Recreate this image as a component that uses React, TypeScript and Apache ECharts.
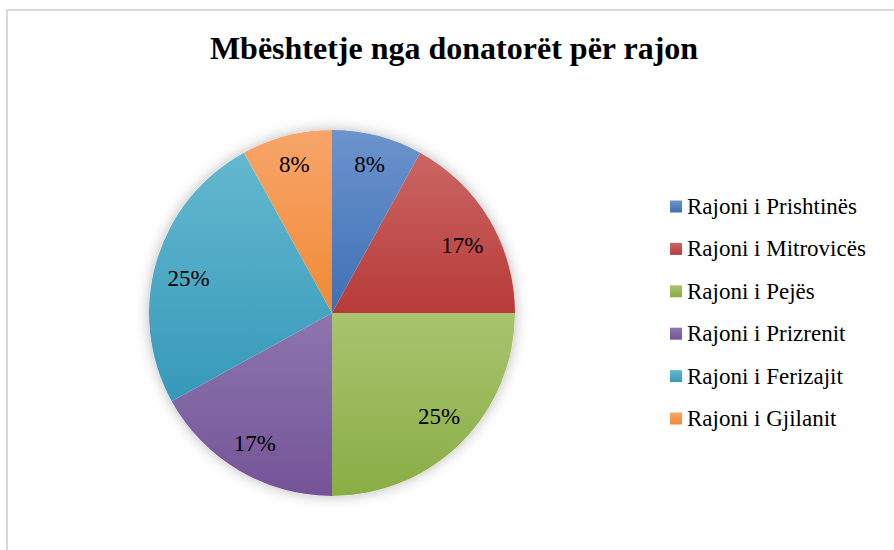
import React, { useEffect, useRef } from "react";
import * as echarts from "echarts";

const titleText = "Mbështetje nga donatorët për rajon";
const categories = [
  "Rajoni i Prishtinës",
  "Rajoni i Mitrovicës",
  "Rajoni i Pejës",
  "Rajoni i Prizrenit",
  "Rajoni i Ferizajit",
  "Rajoni i Gjilanit",
];
const shares = [8, 17, 25, 17, 25, 8];

// styling (not data)
const topColors = ["#6c94cc", "#cb6664", "#a8c46f", "#8d76b0", "#64b8cf", "#f8a56a"];
const bottomColors = ["#3d70b6", "#b73b39", "#8aad45", "#745497", "#3699b9", "#f08a34"];
const labelNudges = [[0, -2], [0, 10], [0, -4], [0, 0], [2, 8], [0, -2]];

const FONT = "Liberation Serif";

export default function App() {
  const ref = useRef<HTMLDivElement>(null);
  useEffect(() => {
    if (!ref.current) return;
    const chart = echarts.init(ref.current, null, { renderer: "svg" });
    const data = categories.map((name, i) => ({
      name,
      value: shares[i],
      itemStyle: {
        color: new echarts.graphic.LinearGradient(0, 0, 0, 1, [
          { offset: 0, color: topColors[i] },
          { offset: 1, color: bottomColors[i] },
        ]),
      },
    }));
    chart.setOption({
      animation: false,
      backgroundColor: "#ffffff",
      textStyle: { fontFamily: FONT },
      graphic: [
        {
          type: "rect",
          shape: { x: 7, y: 10, width: 1000, height: 1000 },
          style: { fill: "none", stroke: "#d9d9d9", lineWidth: 2 },
          silent: true,
          z: -10,
        },
      ],
      title: {
        text: titleText,
        left: 449,
        top: 27,
        textAlign: "center",
        textStyle: {
          fontFamily: FONT,
          fontSize: 32,
          fontWeight: "bold",
          color: "#000000",
        },
      },
      legend: {
        orient: "vertical",
        left: 665,
        top: 190,
        itemWidth: 12,
        itemHeight: 12,
        itemGap: 19.4,
        icon: "rect",
        data: categories,
        textStyle: {
          fontFamily: FONT,
          fontSize: 23,
          lineHeight: 22,
          color: "#000000",
        },
      },
      series: [
        {
          type: "pie",
          name: "shadow",
          center: [332, 313],
          radius: [0, 183],
          silent: true,
          legendHoverLink: false,
          z: 1,
          label: { show: false },
          labelLine: { show: false },
          data: [
            {
              name: "",
              value: shares.reduce((a, b) => a + b, 0),
              itemStyle: {
                color: "#ffffff",
                shadowBlur: 14,
                shadowColor: "rgba(0,0,0,0.28)",
              },
            },
          ],
        },
        {
          type: "pie",
          name: "main",
          center: [332, 313],
          radius: [0, 183],
          startAngle: 90,
          clockwise: true,
          z: 2,
          label: { show: false },
          labelLine: { show: false },
          itemStyle: { borderWidth: 0 },
          emphasis: { disabled: true },
          data,
        },
        {
          type: "pie",
          name: "labels",
          center: [332, 313],
          radius: [114, 183],
          startAngle: 90,
          clockwise: true,
          silent: true,
          z: 3,
          itemStyle: { color: "rgba(0,0,0,0)", borderWidth: 0 },
          emphasis: { disabled: true },
          label: {
            show: true,
            position: "inside",
            formatter: "{c}%",
            fontFamily: FONT,
            fontSize: 23,
            color: "#000000",
          },
          labelLine: { show: false },
          data: categories.map((name, i) => ({
            name,
            value: shares[i],
            label: { offset: labelNudges[i] },
          })),
        },
      ],
    });
    return () => chart.dispose();
  }, []);
  return (
    <div
      ref={ref}
      style={{ position: "absolute", left: 0, top: 0, width: 894, height: 550 }}
    />
  );
}
